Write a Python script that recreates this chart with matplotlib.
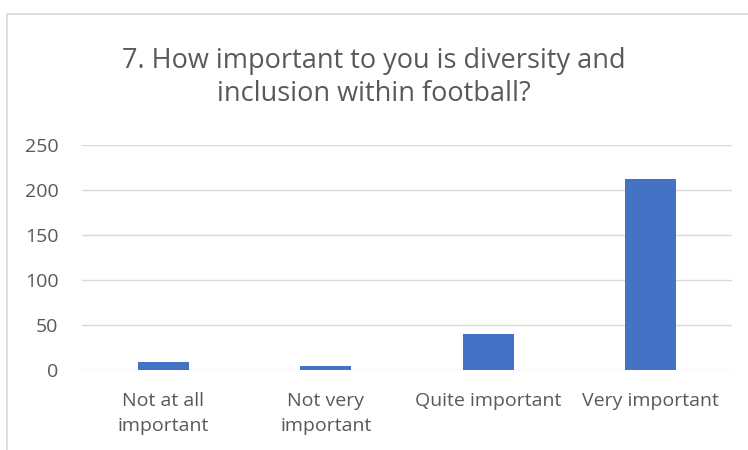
import matplotlib.pyplot as plt
from matplotlib.patches import Rectangle

categories = ['Not at all\nimportant', 'Not very\nimportant', 'Quite important', 'Very important']
counts = [9, 5, 40, 212]
y_ticks = [0, 50, 100, 150, 200, 250]

plt.rcParams['font.family'] = ['Open Sans', 'DejaVu Sans']

fig = plt.figure(figsize=(7.48, 4.5), dpi=100)
ax = fig.add_axes([82 / 748, 1 - 370 / 450, 650 / 748, 225 / 450])

# chart frame like the Excel chart area
fig.patches.append(Rectangle((7 / 748, -0.1), 1.2, 1.1 - 14 / 450, transform=fig.transFigure,
                             fill=False, edgecolor='#d9d9d9', linewidth=1.2))

x = range(len(categories))
ax.bar(x, counts, width=0.315, color='#4472C4', zorder=3)

ax.set_ylim(0, 250)
ax.set_xlim(-0.5, len(categories) - 0.5)
ax.set_yticks(y_ticks)
ax.set_xticks(list(x))
ax.set_xticklabels(categories, linespacing=1.5)
ax.grid(axis='y', color='#d9d9d9', linewidth=1, zorder=0)
for s in ax.spines.values():
    s.set_visible(False)
ax.tick_params(axis='both', length=0, labelsize=14, colors='#595959')
ax.tick_params(axis='x', pad=16)
ax.tick_params(axis='y', pad=17)

fig.text(0.5, 0.828, '7. How important to you is diversity and\ninclusion within football?',
         ha='center', va='center', fontsize=19.5, color='#595959', linespacing=1.24)

fig.savefig('out.png', dpi=100)
